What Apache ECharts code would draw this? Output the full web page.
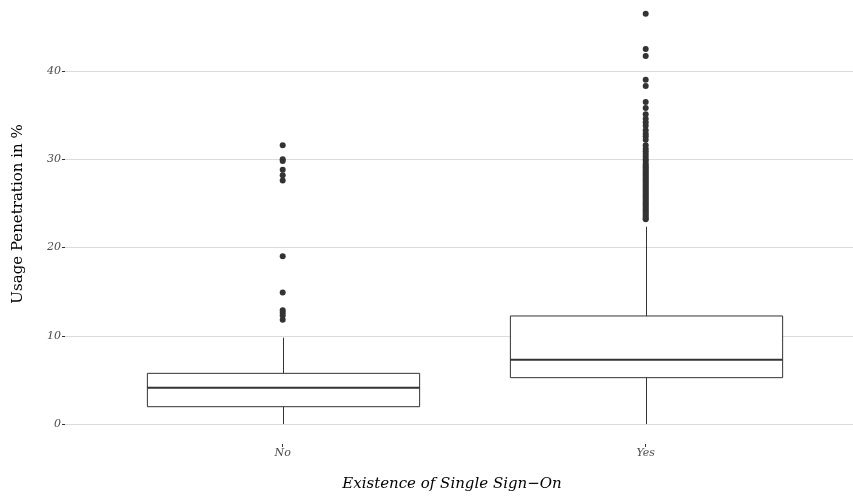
<!DOCTYPE html>
<html>
<head>
<meta charset="utf-8">
<script src="https://cdn.jsdelivr.net/npm/echarts@6/dist/echarts.min.js"></script>
<style>html,body{margin:0;padding:0;background:#fff}#c{width:853px;height:499px}</style>
</head>
<body>
<div id="c"></div>
<script>
const categories = ['No', 'Yes'];
// [lower whisker, Q1, median, Q3, upper whisker]
const boxNo = [0, 1.96, 4.11, 5.74, 9.78];
const boxYes = [0, 5.25, 7.29, 12.24, 22.36];
const outliersNo = [31.6, 30.0, 29.8, 28.8, 28.2, 27.6, 19.0, 14.9, 12.9, 12.6, 12.3, 11.8];
const outliersYes = [46.5, 42.5, 41.7, 39.0, 38.3, 36.5, 35.8, 35.1, 34.6, 34.2, 33.8, 33.3, 32.9, 32.6, 32.2,
  31.6, 31.2, 30.9, 30.6, 30.3, 30.0, 29.8, 29.5, 29.3, 29.1, 28.9, 28.7, 28.5, 28.3, 28.1, 27.9, 27.7,
  27.5, 27.3, 27.1, 26.9, 26.7, 26.5, 26.3, 26.1, 25.9, 25.7, 25.5, 25.3, 25.1, 24.9, 24.7, 24.5, 24.3,
  24.1, 23.9, 23.7, 23.5, 23.3, 23.2];
const yTicks = [0, 10, 20, 30, 40];
const xTitle = 'Existence of Single Sign\u2212On';
const yTitle = 'Usage Penetration in %';

const FONT = '"DejaVu Serif", serif';
const chart = echarts.init(document.getElementById('c'), null, {renderer: 'canvas'});

const boxData = [[0].concat(boxNo), [1].concat(boxYes)];
const outlierData = [];
outliersNo.forEach(v => outlierData.push([0, v]));
outliersYes.forEach(v => outlierData.push([1, v]));

const yCommon = {type: 'value', min: yTicks[0], max: yTicks[yTicks.length - 1], interval: 10};
const LINE = '#333333';

function renderBox(params, api) {
  const idx = api.value(0);
  const band = api.size([1, 0])[0];
  const w = band * 0.75;
  const pLow = api.coord([idx, api.value(1)]);
  const pQ1 = api.coord([idx, api.value(2)]);
  const pMed = api.coord([idx, api.value(3)]);
  const pQ3 = api.coord([idx, api.value(4)]);
  const pHigh = api.coord([idx, api.value(5)]);
  const cx = Math.round(pMed[0]) + 0.5;
  const st = {stroke: LINE, lineWidth: 1, fill: null};
  return {
    type: 'group',
    children: [
      {type: 'line', shape: {x1: cx, y1: pQ3[1], x2: cx, y2: pHigh[1]}, style: st},
      {type: 'line', shape: {x1: cx, y1: pQ1[1], x2: cx, y2: pLow[1]}, style: st},
      {type: 'rect', shape: {x: cx - w / 2, y: pQ3[1], width: w, height: pQ1[1] - pQ3[1]},
        style: {stroke: LINE, lineWidth: 1, fill: '#fff'}},
      {type: 'line', shape: {x1: cx - w / 2, y1: pMed[1], x2: cx + w / 2, y2: pMed[1]},
        style: {stroke: LINE, lineWidth: 2}}
    ]
  };
}

chart.setOption({
  animation: false,
  backgroundColor: '#fff',
  grid: [
    {left: 65, top: 71, right: 0, height: 353},
    {left: 101.2, top: 71, width: 726, height: 353},
    {left: 101.2, top: 443, width: 726, height: 1}
  ],
  xAxis: [
    {gridIndex: 0, type: 'value', min: 0, max: 1, show: false},
    {gridIndex: 1, type: 'category', data: categories, boundaryGap: true, show: false},
    {gridIndex: 2, type: 'category', data: categories, boundaryGap: true,
      axisLine: {show: false},
      axisTick: {show: true, alignWithLabel: true, length: 3, lineStyle: {color: LINE, width: 1}},
      axisLabel: {margin: 4, color: '#4d4d4d', fontFamily: FONT, fontStyle: 'italic', fontSize: 11},
      splitLine: {show: false}}
  ],
  yAxis: [
    Object.assign({gridIndex: 0}, yCommon, {
      axisLine: {show: false},
      axisTick: {show: true, length: 3, lineStyle: {color: LINE, width: 1}},
      axisLabel: {margin: 4, color: '#4d4d4d', fontFamily: FONT, fontStyle: 'italic', fontSize: 11},
      splitLine: {show: true, lineStyle: {color: '#dcdcdc', width: 1}}
    }),
    Object.assign({gridIndex: 1}, yCommon, {show: false, splitLine: {show: false}}),
    {gridIndex: 2, type: 'value', min: 0, max: 1, show: false}
  ],
  graphic: [
    {type: 'text', x: 452, y: 484, style: {text: xTitle, font: 'italic 15px ' + FONT, fill: '#000', align: 'center', verticalAlign: 'middle'}},
    {type: 'text', x: 18.5, y: 214, rotation: Math.PI / 2,
      style: {text: yTitle, font: '15px ' + FONT, fill: '#000', align: 'center', verticalAlign: 'middle'}}
  ],
  series: [
    {type: 'custom', xAxisIndex: 1, yAxisIndex: 1, data: boxData, renderItem: renderBox,
      encode: {x: 0, y: [1, 2, 3, 4, 5]}, clip: false, silent: true, z: 2},
    {type: 'scatter', xAxisIndex: 1, yAxisIndex: 1, data: outlierData, symbolSize: 6, clip: false,
      itemStyle: {color: LINE, opacity: 1}, silent: true, z: 4}
  ]
});
</script>
</body>
</html>
